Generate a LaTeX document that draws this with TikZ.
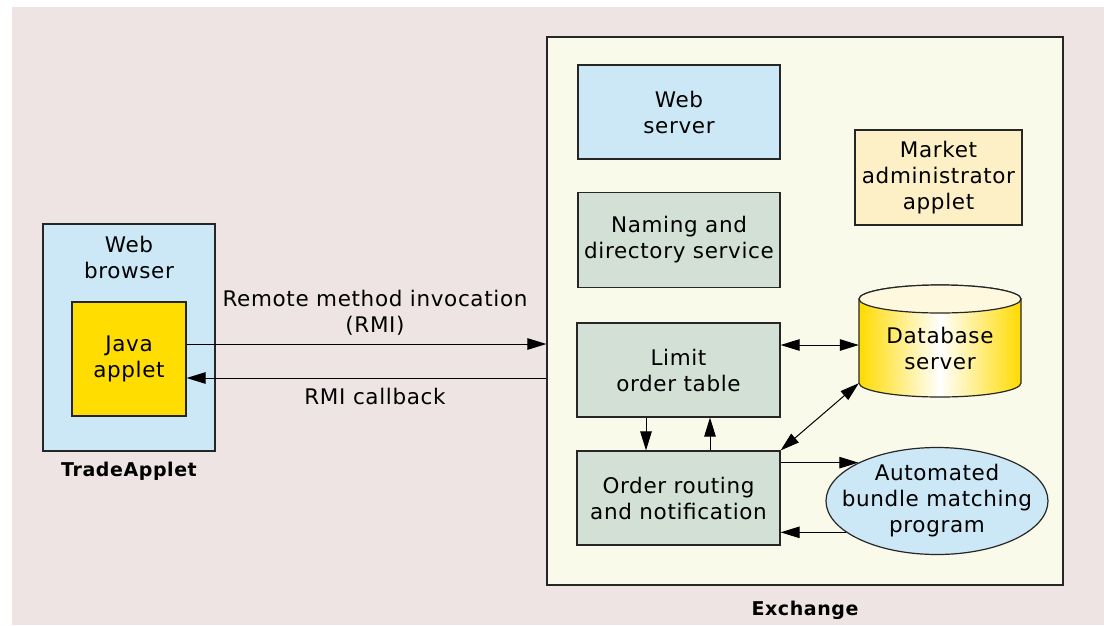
\documentclass[tikz,border=0pt]{standalone}
\usepackage{fontspec}
\setmainfont{DejaVu Sans}[LetterSpace=3]
\usetikzlibrary{positioning,arrows.meta,shapes.geometric}
\definecolor{paper}{RGB}{239,228,228}
\definecolor{exfill}{RGB}{250,250,234}
\definecolor{skyfill}{RGB}{204,232,247}
\definecolor{sagefill}{RGB}{211,224,213}
\definecolor{javafill}{RGB}{255,221,0}
\definecolor{adminfill}{RGB}{253,240,198}
\definecolor{dbyellow}{RGB}{255,219,0}
\definecolor{dbtop}{RGB}{253,248,222}

\begin{document}
\begin{tikzpicture}[x=1pt,y=1pt,
  lbl/.style={align=center,font=\fontsize{21.5}{26}\selectfont},
  box/.style={lbl,draw=black!85,line width=1.2pt},
  arr/.style={line width=1pt,-{Triangle[length=19pt,width=11.5pt]}},
  darr/.style={line width=1pt,{Triangle[length=19pt,width=11.5pt]}-{Triangle[length=19pt,width=11.5pt]}},
  title/.style={font=\fontsize{19}{22}\selectfont\bfseries}]

\useasboundingbox (0,0) rectangle (1104,-625);
\fill[white] (0,0) rectangle (1104,-625);
\fill[paper] (12,-7) rectangle (1104,-625);

\node[box,fill=exfill,minimum width=516,minimum height=548] (exch) at (805,-311) {};
\node[title,below=12pt of exch] (exchname) {Exchange};

\node[box,fill=skyfill,minimum width=202,minimum height=94] (websrv) at (679,-112) {Web\\server};
\node[box,fill=sagefill,minimum width=202,minimum height=95] (naming) at (679,-240) {Naming and\\directory service};
\node[box,fill=sagefill,minimum width=203,minimum height=94] (limit) at (678.5,-370) {Limit\\order table};
\node[box,fill=sagefill,minimum width=203,minimum height=94] (order) at (678.5,-498) {Order routing\\and notification};
\node[box,fill=adminfill,minimum width=167,minimum height=95] (admin) at (938.5,-177.5) {Market\\administrator\\applet};

\shade[left color=dbyellow,right color=dbyellow,middle color=white,draw=black!85,line width=1.2pt]
  (859,-299) -- (859,-383) arc[start angle=180,end angle=360,x radius=81,y radius=14]
  -- (1021,-299) arc[start angle=0,end angle=180,x radius=81,y radius=14] -- cycle;
\draw[fill=dbtop,draw=black!85,line width=1.2pt] (940,-299) ellipse[x radius=81,y radius=14];
\node[lbl,minimum width=162,minimum height=98] (db) at (940,-348) {Database\\server};

\node[box,ellipse,fill=skyfill,minimum width=222,minimum height=107,inner xsep=-30pt,inner ysep=-5pt] (auto) at (937,-501) {Automated\\bundle matching\\program};

\node[box,fill=skyfill,minimum width=172,minimum height=227,
  label={[lbl,anchor=north,yshift=-9pt]north:{Web\\browser}}] (browser) at (129,-337.5) {};
\node[box,fill=javafill,minimum width=114,minimum height=114] (java) at (129,-359) {Java\\applet};
\node[title,below=7pt of browser] (tradename) {TradeApplet};

\draw[arr] ([yshift=15pt]java.east) -- ([yshift=15pt]java.east -| exch.west);
\draw[arr] ([yshift=-19pt]java.east -| exch.west) -- ([yshift=-19pt]java.east);
\node[lbl] (rmi) at (375,-313) {Remote method invocation\\(RMI)};
\node[lbl] (callback) at (375,-396) {RMI callback};

\draw[darr] ([yshift=25pt]limit.east) -- ([yshift=25pt]limit.east -| db.west);
\draw[darr] (order.north east) -- ([yshift=14pt]db.south west);
\draw[arr] ([xshift=-32.5pt]limit.south) -- ([xshift=-32.5pt]order.north);
\draw[arr] ([xshift=31.5pt]order.north) -- ([xshift=31.5pt]limit.south);
\draw[arr] (order.east |- auto.154) -- (auto.154);
\draw[arr] (auto.199) -- (order.east |- auto.199);
\end{tikzpicture}
\end{document}
